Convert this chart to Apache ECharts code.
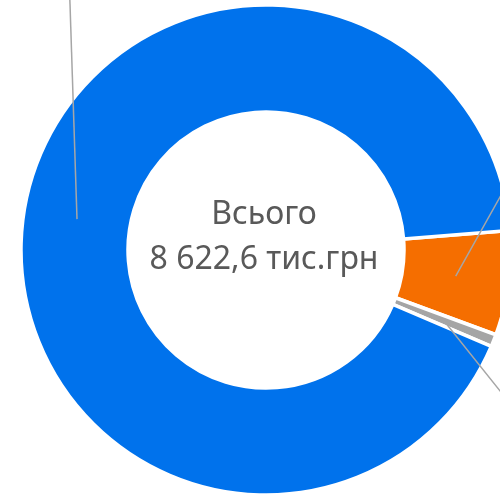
<!DOCTYPE html>
<html>
<head>
<meta charset="utf-8">
<script src="https://cdn.jsdelivr.net/npm/echarts@6/dist/echarts.min.js"></script>
<style>
  html, body { margin: 0; padding: 0; background: #fff; }
  #chart { width: 500px; height: 497px; }
</style>
</head>
<body>
<div id="chart"></div>
<script>
// Budget structure, thousand UAH
const categories = ['Спеціальний фонд', 'Інші надходження', 'Загальний фонд'];
const values = [595.0, 70.0, 7957.6];
const colors = ['#F56E00', '#A5A5A5', '#0072EC'];

// Leader line directions (dx, dy) from each slice toward its label
const leaderDirs = [[42, -75], [52, 65], [-7, -215]];

const CX = 266, CY = 250, R_IN = 138, R_OUT = 245, START = 4.6;

const total = values.reduce((a, b) => a + b, 0);

function fmtTotal(v) {
  const parts = v.toFixed(1).split('.');
  const intPart = parts[0].replace(/\B(?=(\d{3})+(?!\d))/g, ' ');
  return intPart + ',' + parts[1];
}

function midPoint(i) {
  let cum = 0;
  for (let k = 0; k < i; k++) cum += values[k];
  const a = (START - (cum + values[i] / 2) / total * 360) * Math.PI / 180;
  const r = (R_IN + R_OUT) / 2;
  return [CX + r * Math.cos(a), CY - r * Math.sin(a)];
}

const pieData = categories.map((name, i) => ({
  name: name,
  value: values[i],
  itemStyle: { color: colors[i] }
}));

const chart = echarts.init(document.getElementById('chart'), null, { renderer: 'canvas' });

chart.setOption({
  backgroundColor: '#ffffff',
  animation: false,
  series: [
    {
      // the ring itself
      type: 'pie',
      z: 2,
      center: [CX, CY],
      radius: [R_IN, R_OUT],
      startAngle: START,
      clockwise: true,
      silent: true,
      itemStyle: { borderColor: '#ffffff', borderWidth: 3.5 },
      label: { show: false },
      labelLine: { show: false },
      data: pieData
    },
    {
      // transparent copy on top, carrying the labels and their leader lines
      type: 'pie',
      z: 3,
      center: [CX, CY],
      radius: [R_IN, R_OUT],
      startAngle: START,
      clockwise: true,
      silent: true,
      avoidLabelOverlap: false,
      itemStyle: { color: 'rgba(0,0,0,0)', borderWidth: 0 },
      label: {
        show: true,
        position: 'outside',
        formatter: '{b}',
        fontFamily: 'Noto Sans',
        fontSize: 14,
        color: '#595959'
      },
      labelLine: {
        show: true,
        lineStyle: { color: '#A6A6A6', width: 1.5 }
      },
      labelLayout: function (params) {
        const i = params.dataIndex;
        const p0 = midPoint(i);
        const d = leaderDirs[i];
        const len = Math.hypot(d[0], d[1]);
        const s = 420 / len;
        const p2 = [p0[0] + d[0] * s, p0[1] + d[1] * s];
        const p1 = [p0[0] + d[0] * s * 0.5, p0[1] + d[1] * s * 0.5];
        return {
          x: p2[0],
          y: p2[1],
          labelLinePoints: [p0, p1, p2]
        };
      },
      data: categories.map((name, i) => ({
        name: name,
        value: values[i],
        itemStyle: { color: 'rgba(0,0,0,0)' }
      }))
    }
  ],
  graphic: [{
    type: 'text',
    x: 264,
    y: 237,
    z: 10,
    style: {
      text: 'Всього\n' + fmtTotal(total) + ' тис.грн',
      fontFamily: 'Noto Sans',
      fontSize: 32,
      lineHeight: 45,
      fill: '#595959',
      align: 'center',
      verticalAlign: 'middle'
    }
  }]
});
</script>
</body>
</html>
